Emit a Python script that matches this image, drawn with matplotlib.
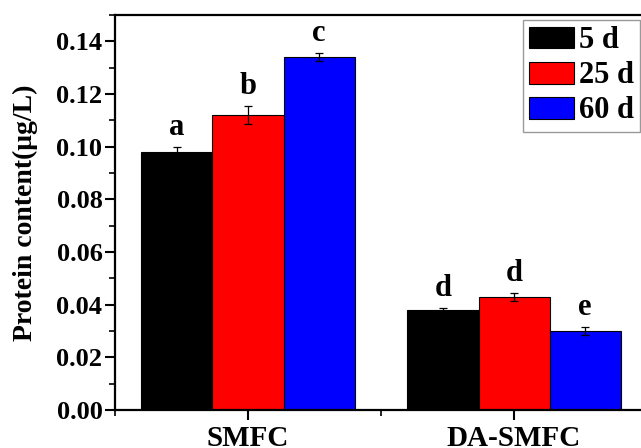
import numpy as np
import matplotlib
matplotlib.use('Agg')
import matplotlib.pyplot as plt
from matplotlib.ticker import MultipleLocator, FormatStrFormatter

plt.rcParams['font.family'] = ['Liberation Serif', 'DejaVu Serif']
plt.rcParams['font.weight'] = 'bold'

# 데이터
groups = ['SMFC', 'DA-SMFC']
series = ['5 d', '25 d', '60 d']
colors = ['#000000', '#ff0000', '#0000ff']
vals_5d = [0.098, 0.038]
vals_25d = [0.112, 0.043]
vals_60d = [0.134, 0.030]
err_5d = [0.002, 0.0008]
err_25d = [0.0035, 0.0015]
err_60d = [0.0015, 0.0017]
letters_5d = ['a', 'd']
letters_25d = ['b', 'd']
letters_60d = ['c', 'e']

values = [vals_5d, vals_25d, vals_60d]
errors = [err_5d, err_25d, err_60d]
letters = [letters_5d, letters_25d, letters_60d]

fig = plt.figure(figsize=(6.41, 4.48), dpi=100)
# 축이 오른쪽으로 잘려 보이도록 그림 밖까지 확장
ax = fig.add_axes([0.1794, 0.0848, 0.830, 0.8817])

x = np.arange(len(groups))
w = 0.267
for i in range(3):
    pos = x + (i - 1) * w
    ax.bar(pos, values[i], w, color=colors[i], edgecolor='black',
           linewidth=0.8, label=series[i],
           yerr=errors[i], capsize=3, error_kw=dict(elinewidth=0.9, capthick=0.9, ecolor='black'))
    for j in range(len(groups)):
        ax.annotate(letters[i][j], xy=(pos[j], values[i][j] + errors[i][j]),
                    xytext=(0, 8.5), textcoords='offset points',
                    ha='center', va='baseline', fontsize=22, fontweight='bold')

ax.set_xlim(-0.5, 1.5)
ax.set_ylim(0, 0.15)
ax.set_xticks(x)
ax.set_xticklabels(groups, fontsize=21)
ax.xaxis.set_minor_locator(MultipleLocator(0.5))
ax.yaxis.set_major_locator(MultipleLocator(0.02))
ax.yaxis.set_minor_locator(MultipleLocator(0.01))
ax.yaxis.set_major_formatter(FormatStrFormatter('%.2f'))
ax.tick_params(which='major', direction='out', length=7, width=1.5, pad=2)
ax.tick_params(axis='y', which='major', labelsize=19)
ax.tick_params(which='minor', direction='out', length=4, width=1.2)
ax.tick_params(axis='x', which='major', pad=4)
for s in ax.spines.values():
    s.set_linewidth(1.6)

ax.set_ylabel('Protein content(μg/L)', fontsize=20, fontweight='bold')
ax.yaxis.set_label_coords(-0.145, 0.5)

leg = ax.legend(loc='upper left', bbox_to_anchor=(0.767, 0.987), fontsize=22,
                frameon=True, fancybox=False, edgecolor='#808080',
                handlelength=1.47, handleheight=0.72, handletextpad=0.15,
                labelspacing=0.2, borderpad=0.2, borderaxespad=0)
leg.get_frame().set_linewidth(1.0)

fig.savefig('out.png', dpi=100)
